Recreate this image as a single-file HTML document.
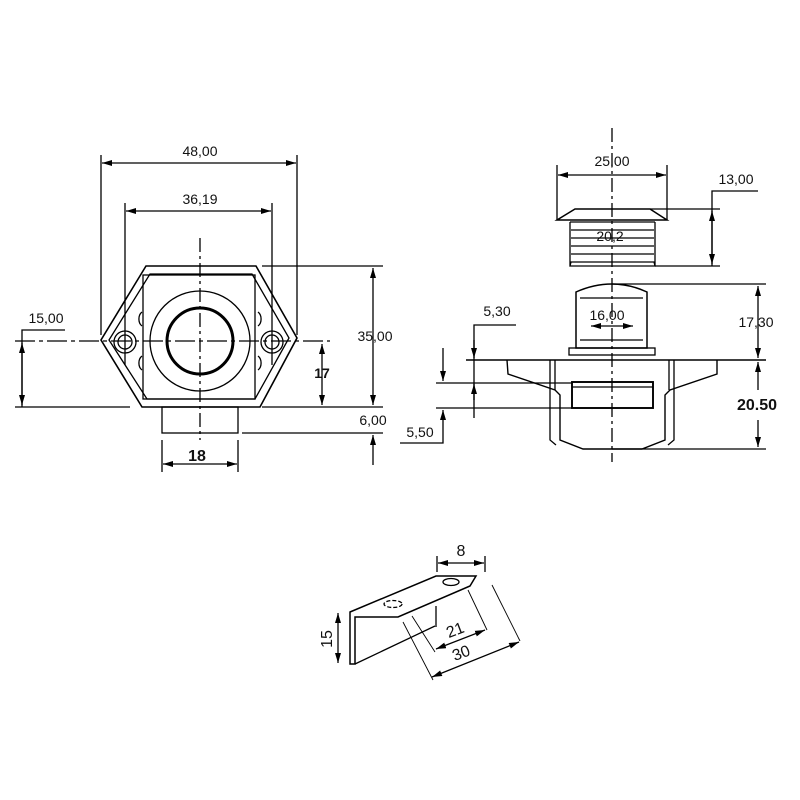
<!DOCTYPE html>
<html><head><style>body{margin:0;background:#fff}svg{display:block}text{font-family:"Liberation Sans",sans-serif;font-size:14px;fill:#111}</style></head><body>
<svg width="800" height="800" viewBox="0 0 800 800" xmlns="http://www.w3.org/2000/svg">
<defs><marker id="a" viewBox="0 0 10 6" refX="10" refY="3" markerWidth="10" markerHeight="6" orient="auto-start-reverse" markerUnits="userSpaceOnUse"><path d="M0,0L10,3L0,6z" fill="#000"/></marker></defs>
<g stroke="#000" stroke-width="1.3" fill="none">
<!-- LEFT VIEW -->
<line x1="101" y1="155" x2="101" y2="335"/><line x1="297" y1="155" x2="297" y2="335"/>
<line x1="102" y1="163" x2="296" y2="163" marker-start="url(#a)" marker-end="url(#a)"/>
<line x1="125" y1="203" x2="125" y2="365"/><line x1="272" y1="203" x2="272" y2="365"/>
<line x1="126" y1="211" x2="271" y2="211" marker-start="url(#a)" marker-end="url(#a)"/>
<path d="M146,266 L256,266 L297,338 L260,407 L142,407 L101,340 Z" stroke-width="1.6"/>
<path d="M150,274 L252,274 L289,338 L255,399 L147,399 L109,340 Z"/>
<rect x="143" y="275" width="112" height="124"/>
<circle cx="200" cy="341" r="50"/>
<circle cx="200" cy="341" r="33" stroke-width="3"/>
<circle cx="125" cy="342" r="11"/><circle cx="125" cy="342" r="7"/>
<circle cx="272" cy="342" r="11"/><circle cx="272" cy="342" r="7"/>
<path d="M142,312 a6,8 0 0 0 0,14 M142,356 a6,8 0 0 0 0,14 M258,312 a6,8 0 0 1 0,14 M258,356 a6,8 0 0 1 0,14"/>
<line x1="200" y1="238" x2="200" y2="440" stroke-dasharray="14,4,3,4"/>
<line x1="15" y1="341" x2="330" y2="341" stroke-dasharray="20,4,4,4"/>
<rect x="162" y="407" width="76" height="26"/>
<line x1="162" y1="440" x2="162" y2="472"/><line x1="238" y1="440" x2="238" y2="472"/>
<line x1="163" y1="464" x2="237" y2="464" marker-start="url(#a)" marker-end="url(#a)"/>
<polyline points="65,330 22,330 22,407"/>
<line x1="22" y1="343" x2="22" y2="405" marker-start="url(#a)" marker-end="url(#a)"/>
<line x1="15" y1="407" x2="130" y2="407"/><line x1="262" y1="407" x2="383" y2="407"/>
<line x1="262" y1="266" x2="383" y2="266"/>
<line x1="373" y1="268" x2="373" y2="405" marker-start="url(#a)" marker-end="url(#a)"/>
<line x1="322" y1="344" x2="322" y2="405" marker-start="url(#a)" marker-end="url(#a)"/>
<line x1="242" y1="433" x2="383" y2="433"/>
<line x1="373" y1="465" x2="373" y2="435" marker-end="url(#a)"/>
<!-- RIGHT VIEW -->
<line x1="612" y1="128" x2="612" y2="462" stroke-dasharray="14,4,3,4"/>
<line x1="557" y1="165" x2="557" y2="220"/><line x1="667" y1="165" x2="667" y2="220"/>
<line x1="558" y1="175" x2="666" y2="175" marker-start="url(#a)" marker-end="url(#a)"/>
<path d="M575,209 L650,209 L667,220 L557,220 Z" stroke-width="1.5"/>
<path d="M570,222 L655,222 M571,230 L654,230 M571,238 L654,238 M571,246 L654,246 M571,254 L654,254 M571,262 L654,262 L655,266 L570,266 Z M570,222 L570,266 M655,222 L655,266"/>
<polyline points="758,191 712,191 712,266"/>
<line x1="650" y1="209" x2="720" y2="209"/><line x1="655" y1="266" x2="720" y2="266"/>
<line x1="712" y1="211" x2="712" y2="264" marker-start="url(#a)" marker-end="url(#a)"/>
<path d="M576,292 Q612,276 647,292 L647,348 L576,348 Z" stroke-width="1.5"/>
<path d="M580,298 L643,298 M580,340 L643,340"/>
<line x1="591" y1="326" x2="633" y2="326" marker-start="url(#a)" marker-end="url(#a)"/>
<rect x="569" y="348" width="86" height="7"/>
<line x1="612" y1="284" x2="766" y2="284"/>
<line x1="758" y1="286" x2="758" y2="358" marker-start="url(#a)" marker-end="url(#a)"/>
<line x1="466" y1="360" x2="766" y2="360" stroke-width="1.5"/>
<path d="M507,360 L508,374 L555,390 L560,395 L560,440 L583,449 L642,449 L665,440 L665,395 L670,390 L717,374 L717,360" stroke-width="1.4"/>
<path d="M550,360 L550,440 L556,445 M674,360 L674,440 L668,445 M555,360 L555,390 M669,360 L669,390"/>
<rect x="572" y="382" width="81" height="26" stroke-width="1.9"/>
<line x1="572" y1="387" x2="653" y2="387"/>
<line x1="758" y1="362" x2="758" y2="390" marker-start="url(#a)"/>
<line x1="758" y1="420" x2="758" y2="447" marker-end="url(#a)"/>
<line x1="612" y1="449" x2="766" y2="449"/>
<polyline points="516,325 474,325 474,418"/>
<line x1="474" y1="340" x2="474" y2="358" marker-end="url(#a)"/>
<line x1="474" y1="400" x2="474" y2="384" marker-end="url(#a)"/>
<line x1="436" y1="383" x2="572" y2="383"/><line x1="436" y1="408" x2="572" y2="408"/>
<line x1="443" y1="348" x2="443" y2="381" marker-end="url(#a)"/>
<polyline points="400,443 443,443 443,410" marker-end="url(#a)"/>
<!-- BRACKET -->
<line x1="437" y1="556" x2="437" y2="572"/><line x1="485" y1="556" x2="485" y2="572"/>
<line x1="438" y1="563" x2="484" y2="563" marker-start="url(#a)" marker-end="url(#a)"/>
<path d="M350,612 L436,576 L476,576 L470,586 L398,617 L355,617 L355,664 L350,664 Z" stroke-width="1.5"/>
<line x1="355" y1="664" x2="435" y2="626"/>
<line x1="436" y1="606" x2="436" y2="627"/>
<ellipse cx="451" cy="582" rx="8" ry="3.5"/>
<ellipse cx="393" cy="604" rx="9" ry="3.5" stroke-dasharray="4,2"/>
<line x1="338" y1="613" x2="338" y2="663" marker-start="url(#a)" marker-end="url(#a)"/>
<line x1="412" y1="616" x2="435" y2="652" stroke-width="0.9"/>
<line x1="468" y1="590" x2="487" y2="630" stroke-width="0.9"/>
<line x1="436" y1="649" x2="485" y2="630" marker-start="url(#a)" marker-end="url(#a)"/>
<line x1="403" y1="622" x2="433" y2="680" stroke-width="0.9"/>
<line x1="492" y1="585" x2="520" y2="641" stroke-width="0.9"/>
<line x1="432" y1="677" x2="519" y2="642" marker-start="url(#a)" marker-end="url(#a)"/>
</g>
<text x="200" y="156" text-anchor="middle">48,00</text>
<text x="200" y="204" text-anchor="middle">36,19</text>
<text x="46" y="323" text-anchor="middle">15,00</text>
<text x="375" y="341" text-anchor="middle">35,00</text>
<text x="322" y="378" text-anchor="middle" style="font-weight:bold">17</text>
<text x="373" y="425" text-anchor="middle">6,00</text>
<text x="197" y="461" text-anchor="middle" style="font-weight:bold;font-size:16px">18</text>
<text x="612" y="166" text-anchor="middle">25,00</text>
<text x="736" y="184" text-anchor="middle">13,00</text>
<text x="610" y="241" text-anchor="middle">20,2</text>
<text x="607" y="320" text-anchor="middle">16,00</text>
<text x="497" y="316" text-anchor="middle">5,30</text>
<text x="756" y="327" text-anchor="middle">17,30</text>
<text x="757" y="410" text-anchor="middle" style="font-weight:bold;font-size:16px">20.50</text>
<text x="420" y="437" text-anchor="middle">5,50</text>
<text x="461" y="556" text-anchor="middle" style="font-size:16px">8</text>
<text transform="translate(332,639) rotate(-90)" text-anchor="middle" style="font-size:16px">15</text>
<text transform="translate(457,635) rotate(-21)" text-anchor="middle" style="font-size:16px">21</text>
<text transform="translate(463,658) rotate(-21)" text-anchor="middle" style="font-size:16px">30</text>
</svg>
</body></html>
